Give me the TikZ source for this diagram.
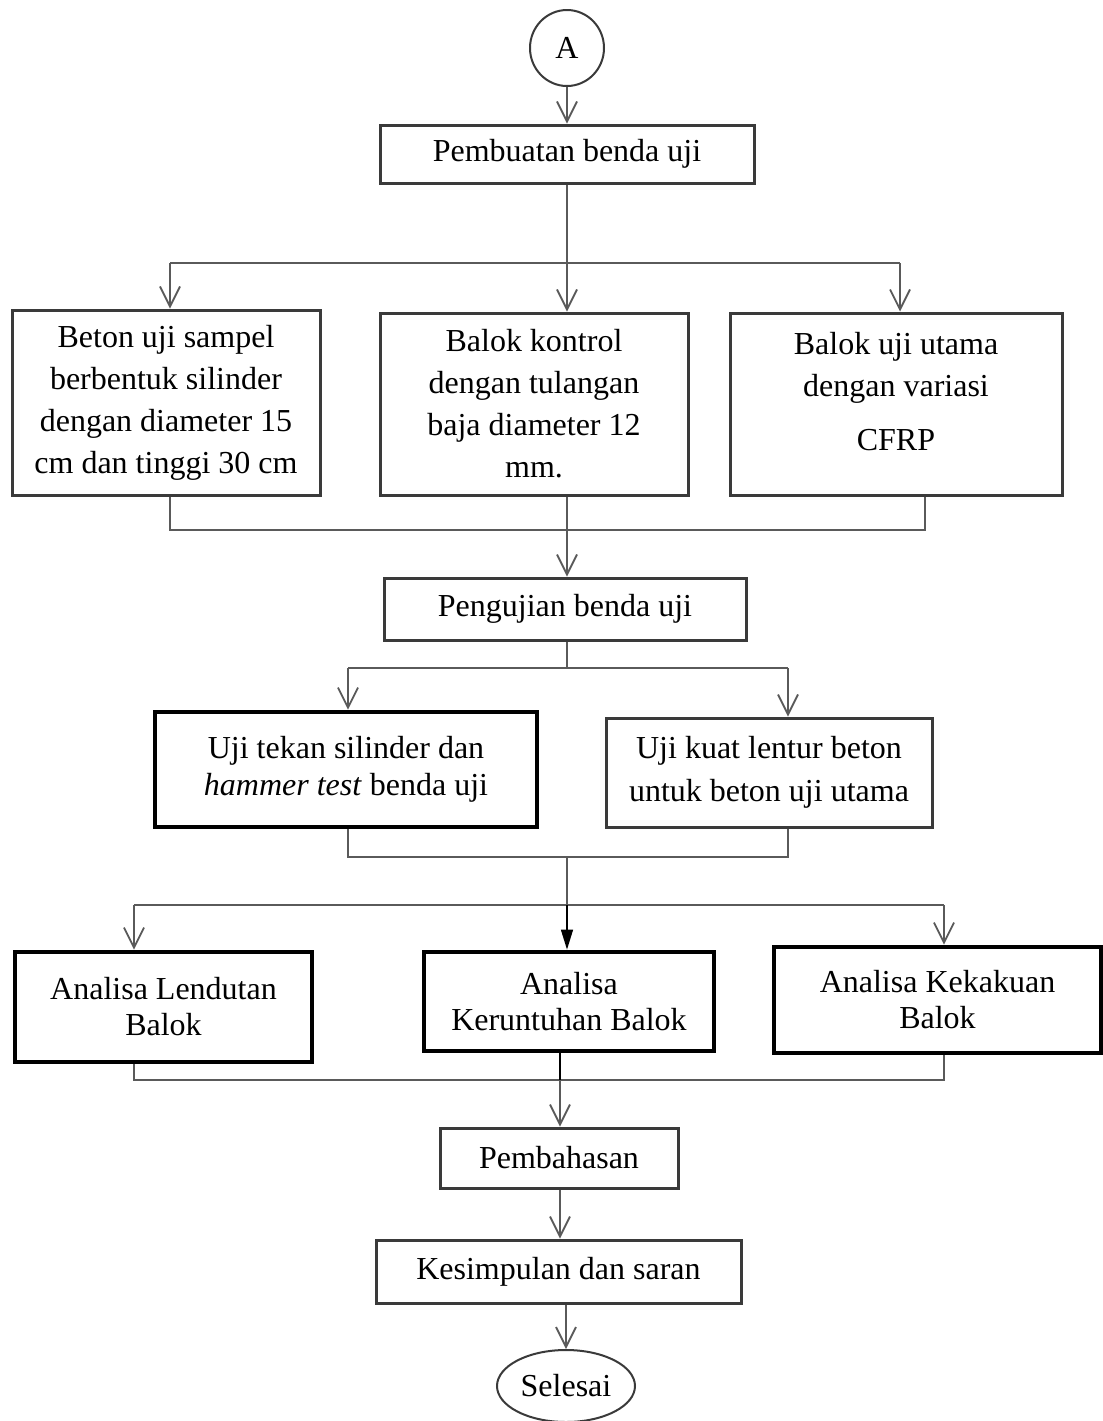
\documentclass[tikz,border=0pt]{standalone}
\usepackage{fontspec}
\setmainfont{Liberation Serif}
\usetikzlibrary{arrows.meta,shapes.geometric}
\definecolor{conngray}{HTML}{5A5A5A}
\definecolor{boxgray}{HTML}{3A3A3A}
\begin{document}
\begin{tikzpicture}[x=0.5pt,y=-0.5pt,
  box/.style={draw=boxgray, line width=1.5pt, rectangle, align=center, inner sep=0pt,
    font=\fontsize{16}{21}\selectfont},
  thickbox/.style={draw=black, line width=2.4pt, rectangle, align=center, inner sep=0pt,
    font=\fontsize{16}{18.5}\selectfont},
  oval/.style={draw=boxgray, line width=1pt, ellipse, inner sep=0pt,
    font=\fontsize{16}{19}\selectfont},
  conn/.style={draw=conngray, line width=1.3pt},
  arr/.style={conn, -{Straight Barb[length=10pt,width=10pt,line width=0.9pt]}},
  blackarr/.style={draw=black, line width=0.7pt, -{Triangle[length=10pt,width=6pt]}},
  thin/.style={draw=black, line width=0.7pt}
]
\useasboundingbox (0,0) rectangle (1103,1421);

% nodes
\node[oval, minimum width=37pt, minimum height=38pt] (A) at (567,48) {A};
\node[box, minimum width=187pt, minimum height=29pt] (p1) at (567,154) {Pembuatan benda uji};

\node[box, minimum width=154pt, minimum height=92.5pt] (b1) at (166,402.5)
  {Beton uji sampel\\berbentuk silinder\\dengan diameter 15\\cm dan tinggi 30 cm};
\node[box, minimum width=154pt, minimum height=91pt] (b2) at (534,404)
  {Balok kontrol\\dengan tulangan\\baja diameter 12\\mm.};
\node[box, minimum width=166pt, minimum height=91pt] (b3) at (896,404)
  {Balok uji utama\\dengan variasi\\[6pt]CFRP\\[-8pt]};

\node[box, minimum width=181pt, minimum height=31pt] (p2) at (565,609) {Pengujian benda uji};

\node[thickbox, minimum width=191pt, minimum height=57.5pt] (t1) at (346,769.5)
  {Uji tekan silinder dan\\\textit{hammer test} benda uji};
\node[box, minimum width=163pt, minimum height=54.5pt, font=\fontsize{16}{21.5}\selectfont] (t2) at (769,772.5)
  {Uji kuat lentur beton\\untuk beton uji utama};

\node[thickbox, minimum width=148.5pt, minimum height=55pt, font=\fontsize{16}{18}\selectfont] (a1) at (163.5,1007)
  {Analisa Lendutan\\Balok};
\node[thickbox, minimum width=145pt, minimum height=49.5pt, font=\fontsize{16}{18}\selectfont] (a2) at (569,1001.5)
  {Analisa\\Keruntuhan Balok};
\node[thickbox, minimum width=163.5pt, minimum height=53pt, font=\fontsize{16}{18}\selectfont] (a3) at (937.5,1000)
  {Analisa Kekakuan\\Balok};

\node[box, minimum width=119pt, minimum height=30pt] (p3) at (559,1158) {Pembahasan};
\node[box, minimum width=182.5pt, minimum height=31.5pt] (p4) at (558.5,1271.5) {Kesimpulan dan saran};
\node[oval, minimum width=69pt, minimum height=36pt] (e) at (566,1386) {Selesai};

% junction coordinates
\coordinate (j1) at (567,263);
\coordinate (j1l) at (170,263);
\coordinate (j1r) at (900,263);
\coordinate (j2l) at (170,530);
\coordinate (j2r) at (925,530);
\coordinate (j3) at (567,668);
\coordinate (j3l) at (348,668);
\coordinate (j3r) at (788,668);
\coordinate (j4) at (567,857);
\coordinate (j4l) at (348,857);
\coordinate (j4r) at (788,857);
\coordinate (j5l) at (134,905);
\coordinate (j5r) at (944,905);
\coordinate (j6) at (560,1080);
\coordinate (j6l) at (134,1080);
\coordinate (j6r) at (944,1080);

% connectors
\draw[arr] (A.south) -- (p1.north);
\draw[conn] (p1.south) -- (j1);
\draw[conn] (j1l) -- (j1r);
\draw[arr] (j1l) -- (j1l |- b1.north);
\draw[arr] (j1) -- (j1 |- b2.north);
\draw[arr] (j1r) -- (j1r |- b3.north);

\draw[conn] (j2l |- b1.south) -- (j2l) -- (j2r) -- (j2r |- b3.south);
\draw[arr] (j1 |- b2.south) -- (j1 |- p2.north);

\draw[conn] (j3 |- p2.south) -- (j3);
\draw[conn] (j3l) -- (j3r);
\draw[arr] (j3l) -- (j3l |- t1.north);
\draw[arr] (j3r) -- (j3r |- t2.north);

\draw[conn] (j4l |- t1.south) -- (j4l) -- (j4r) -- (j4r |- t2.south);
\draw[conn] (j5l) -- (j5r);
\draw[arr] (j5l) -- (j5l |- a1.north);
\draw[arr] (j5r) -- (j5r |- a3.north);
\draw[conn] (j4) -- (j4 |- j5l);
\draw[blackarr] (j4 |- j5l) -- (j4 |- a2.north);

\draw[conn] (j6l |- a1.south) -- (j6l) -- (j6r) -- (j6r |- a3.south);
\draw[thin] (j6 |- a2.south) -- (j6);
\draw[arr] (j6) -- (j6 |- p3.north);
\draw[arr] (j6 |- p3.south) -- (j6 |- p4.north);
\draw[arr] (e.north |- p4.south) -- (e.north);
\end{tikzpicture}
\end{document}
